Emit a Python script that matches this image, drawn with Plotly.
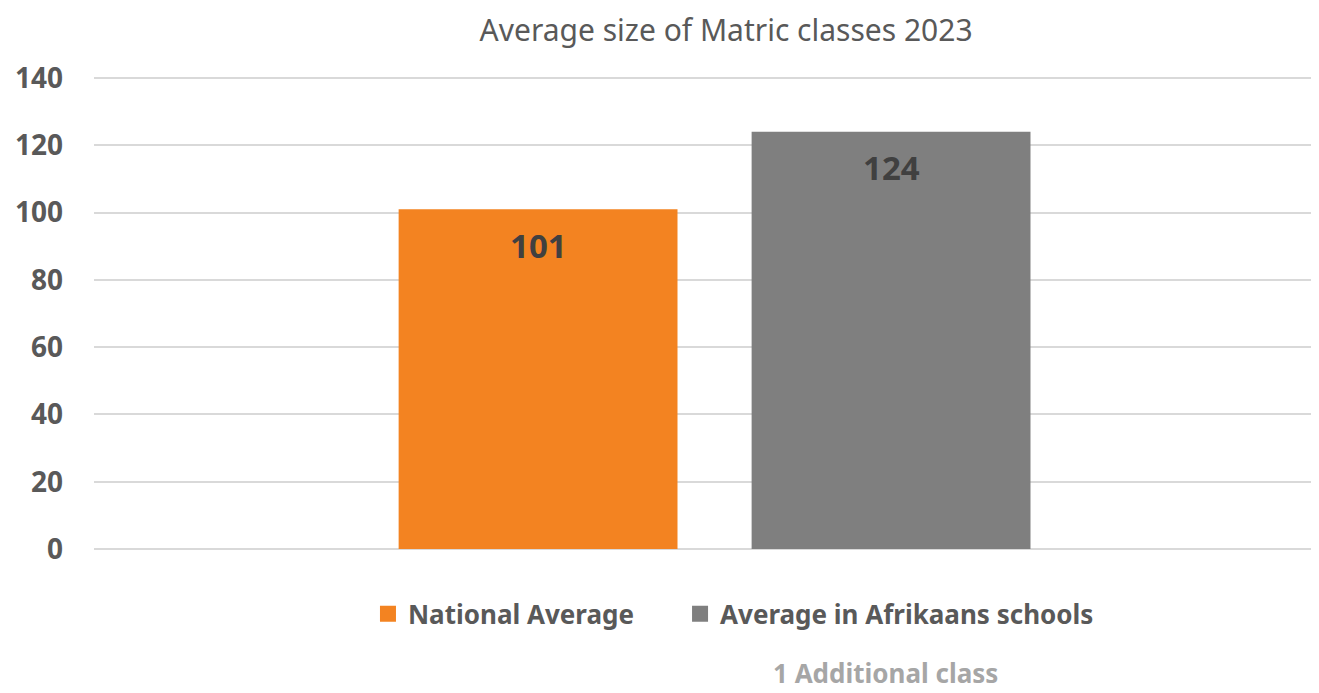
import plotly.graph_objects as go

# data
series_names = ["National Average", "Average in Afrikaans schools"]
series_values = [101, 124]
series_colors = ["#F38321", "#7F7F7F"]
y_ticks = [0, 20, 40, 60, 80, 100, 120, 140]
note_text = "1 Additional class"

FONT = "Noto Sans"
legend_ids = ["legend", "legend2"]
legend_x = [0.2222, 0.4753]

fig = go.Figure()
for name, val, col, lid in zip(series_names, series_values, series_colors, legend_ids):
    fig.add_trace(go.Bar(
        x=[name], y=[val], name=name,
        marker=dict(color=col, line=dict(width=0)),
        width=0.79, showlegend=False,
        hoverinfo="skip",
    ))
    # legend entry with a larger square swatch
    fig.add_trace(go.Scatter(
        x=[name], y=[None], name=name, mode="markers",
        marker=dict(symbol="square", size=16, color=col),
        showlegend=True, legend=lid, hoverinfo="skip",
    ))
    fig.add_annotation(
        x=name, y=val, text=f"<b>{val}</b>", showarrow=False,
        yshift=-36, font=dict(family=FONT, size=33, color="#404040"),
    )

fig.add_annotation(
    xref="paper", yref="paper", x=0.642, y=-0.26, xanchor="center", yanchor="middle",
    text=f"<b>{note_text}</b>", showarrow=False,
    font=dict(family=FONT, size=26, color="#A6A6A6"),
)

legend_style = dict(orientation="h", xanchor="left", y=-0.135, yanchor="middle",
                    font=dict(family=FONT, size=26, color="#595959", weight="bold"),
                    itemclick=False, itemdoubleclick=False, bgcolor="rgba(0,0,0,0)")

fig.update_layout(
    width=1319, height=693,
    title=dict(text="Average size of Matric classes 2023", x=0.5444, xanchor="center",
               y=0.982, yanchor="top", pad=dict(t=0),
               font=dict(family=FONT, size=30, color="#595959")),
    plot_bgcolor="white", paper_bgcolor="white",
    margin=dict(l=86, r=0, t=69, b=151, autoexpand=False),
    showlegend=True,
    legend=dict(x=legend_x[0], **legend_style),
    legend2=dict(x=legend_x[1], **legend_style),
    font=dict(family=FONT),
)
fig.update_xaxes(type="category", range=[-1.258, 2.235], showticklabels=False,
                 showgrid=False, zeroline=False, showline=False)
fig.update_yaxes(range=[-0.3, 140.3], tickvals=y_ticks, showgrid=True, gridcolor="#D9D9D9",
                 gridwidth=2, zeroline=False, showline=False, ticks="",
                 tickfont=dict(family=FONT, size=28, color="#595959", weight="bold"),
                 ticklabelstandoff=30)

fig.write_html("out.html")
